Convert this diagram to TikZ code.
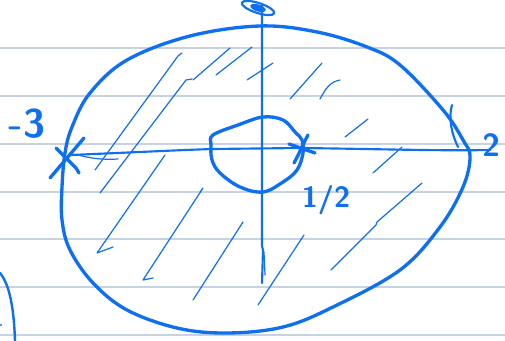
\documentclass[tikz,border=0pt]{standalone}
\begin{document}
\begin{tikzpicture}[x=0.75pt,y=-0.75pt,
  ink/.style={draw=penblue,line cap=round,line join=round},
  thick ink/.style={ink,line width=2.5pt},
  axis ink/.style={ink,line width=1.6pt},
  hatch/.style={ink,line width=0.9pt},
  rule/.style={draw=paperline,line width=1.4pt},
  lbl/.style={text=penblue,inner sep=0pt,font=\sffamily\bfseries}]
\definecolor{penblue}{RGB}{14,112,240}
\definecolor{paperline}{RGB}{200,211,226}
\useasboundingbox (0,0) rectangle (505,341);
\fill[white] (0,0) rectangle (505,341);
% ruled paper
\foreach \yy in {48,96,144,192,239,287,335} \draw[rule] (0,\yy) -- (505,\yy);
% partial curve bottom-left
\draw[thick ink,line width=1.8pt] (0,273) .. controls (10,285) and (14,310) .. (15,341);
\fill[penblue] (1,325) circle (1.2);
% outer boundary
\draw[thick ink] plot[smooth cycle,tension=0.6] coordinates {
 (260,26) (317,32) (367,47) (400,65) (443,110) (463,140) (470,157) (463,187)
 (440,227) (400,270) (333,307) (283,327) (227,333) (177,328) (127,310)
 (93,283) (70,250) (62,220) (62,187) (65,153) (72,127) (90,93) (127,60) (190,36)};
% axes
\draw[axis ink] (70,155) .. controls (120,153) and (180,150) .. (213,149)
   -- (300,148) .. controls (380,149) and (440,151) .. (490,150);
\draw[hatch] (78,155) .. controls (90,158) and (100,160) .. (118,159);
\draw[axis ink] (262,5) -- (262,246) -- (263,250) -- (262,283);
\draw[hatch] (264,252) -- (265,275);
% scribble at top of vertical axis
\draw[axis ink,rotate around={-18:(258,8)}] (258,8) ellipse (17 and 5);
\fill[penblue,rotate around={-18:(258,8)}] (258,8) ellipse (8 and 3.5);
% inner circle
\draw[thick ink] plot[smooth cycle,tension=0.6] coordinates {
 (213,135) (238,125) (263,117) (283,120) (295,132) (302,140) (303,153)
 (297,170) (283,182) (263,192) (240,187) (220,173) (212,160) (211,145)};
% x marks
\draw[thick ink] (50,178) -- (84,138);
\draw[thick ink] (56,148) -- (76,168) -- (79,173);
\draw[thick ink] (289,144) -- (315,153);
\draw[thick ink] (294,163) .. controls (300,152) and (304,142) .. (308,135);
\draw[ink,line width=1.6pt] (452,105) .. controls (448,118) and (452,135) .. (458,147);
% hatching
\draw[hatch] (95,170) -- (178,56) -- (182,53);
\draw[hatch] (100,193) -- (186,80) -- (192,79);
\draw[hatch] (193,80) -- (230,48);
\draw[hatch] (216,75) -- (252,47);
\draw[hatch] (247,80) -- (273,63);
\draw[hatch] (290,99) -- (322,63);
\draw[hatch] (320,99) .. controls (326,88) and (330,82) .. (340,80);
\draw[hatch] (345,137) -- (368,119);
\draw[hatch] (373,173) -- (402,147);
\draw[hatch] (113,247) -- (97,253) -- (165,155);
\draw[hatch] (153,278) -- (143,280) -- (203,188) -- (200,192);
\draw[hatch] (193,300) -- (243,222);
\draw[hatch] (258,305) -- (304,235);
\draw[hatch] (331,270) -- (376,225) -- (377,222) -- (422,183);
% labels
\node[lbl,font=\sffamily\bfseries\fontsize{30}{30}\selectfont] (m3) at (27,124) {-3};
\node[lbl,font=\sffamily\bfseries\fontsize{24}{24}\selectfont,anchor=west] (two) at (482,145) {2};
\node[lbl,font=\sffamily\bfseries\fontsize{22}{22}\selectfont] (half) at (326,200) {1/2};
\end{tikzpicture}
\end{document}
